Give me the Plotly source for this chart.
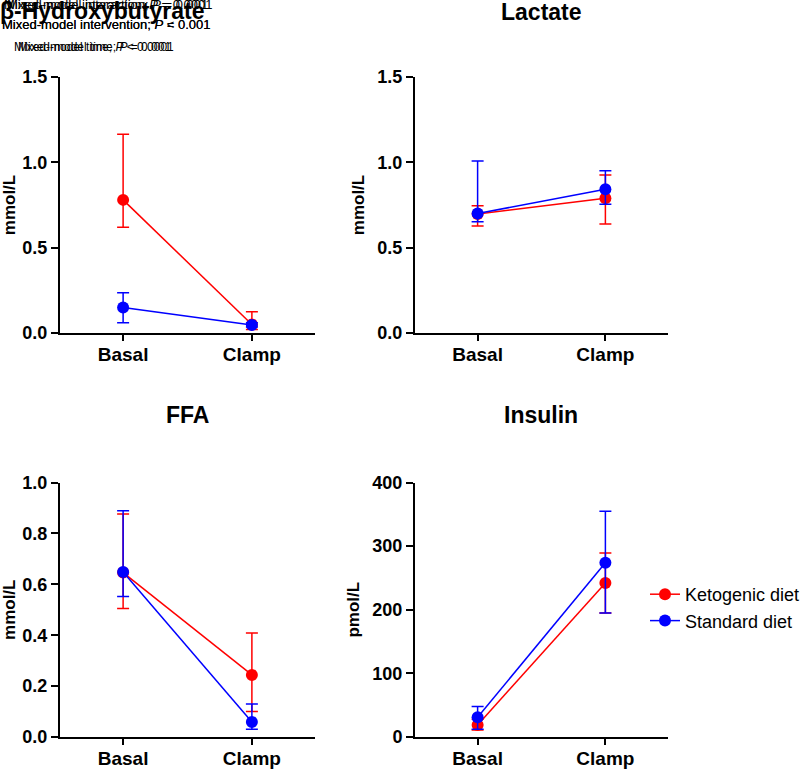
import plotly.graph_objects as go

categories = ["Basal", "Clamp"]

# β-Hydroxybutyrate (mmol/L)
bhb_keto = [0.78, 0.05]
bhb_keto_hi = [1.165, 0.125]
bhb_keto_lo = [0.62, 0.02]
bhb_std = [0.15, 0.047]
bhb_std_hi = [0.236, 0.06]
bhb_std_lo = [0.06, 0.035]

# Lactate (mmol/L)
lac_keto = [0.697, 0.789]
lac_keto_hi = [0.746, 0.926]
lac_keto_lo = [0.627, 0.639]
lac_std = [0.70, 0.842]
lac_std_hi = [1.008, 0.951]
lac_std_lo = [0.652, 0.754]

# FFA (mmol/L)
ffa_keto = [0.646, 0.244]
ffa_keto_hi = [0.876, 0.409]
ffa_keto_lo = [0.505, 0.100]
ffa_std = [0.648, 0.059]
ffa_std_hi = [0.889, 0.130]
ffa_std_lo = [0.552, 0.03]

# Insulin (pmol/L)
ins_keto = [19, 242]
ins_keto_hi = [28, 289]
ins_keto_lo = [11, 195]
ins_std = [31, 274]
ins_std_hi = [48, 355]
ins_std_lo = [12, 195]

RED = "#ff0000"
BLUE = "#0000ff"
FONT = "Arial, Liberation Sans, sans-serif"

W, H = 800, 770

def px(x):
    return x / W

def py(y):
    return 1 - y / H

fig = go.Figure()

panels = [
    ("x", "y", bhb_keto, bhb_keto_hi, bhb_keto_lo, bhb_std, bhb_std_hi, bhb_std_lo),
    ("x2", "y2", lac_keto, lac_keto_hi, lac_keto_lo, lac_std, lac_std_hi, lac_std_lo),
    ("x3", "y3", ffa_keto, ffa_keto_hi, ffa_keto_lo, ffa_std, ffa_std_hi, ffa_std_lo),
    ("x4", "y4", ins_keto, ins_keto_hi, ins_keto_lo, ins_std, ins_std_hi, ins_std_lo),
]

for i, (xa, ya, k, khi, klo, s, shi, slo) in enumerate(panels):
    for name, vals, hi, lo, col in [
        ("Ketogenic diet", k, khi, klo, RED),
        ("Standard diet", s, shi, slo, BLUE),
    ]:
        fig.add_trace(go.Scatter(
            x=[0, 1], y=vals, xaxis=xa, yaxis=ya,
            mode="lines+markers", name=name,
            showlegend=(i == 3),
            line=dict(color=col, width=1.5),
            marker=dict(color=col, size=12),
            error_y=dict(type="data", symmetric=False,
                         array=[h - v for h, v in zip(hi, vals)],
                         arrayminus=[v - l for v, l in zip(vals, lo)],
                         color=col, thickness=1.5, width=6),
            cliponaxis=False,
        ))

xdom_l = [px(60), px(315)]
xdom_r = [px(415), px(668)]
ydom_t = [py(333), py(77)]
ydom_b = [py(737), py(482.5)]

def xaxis_cfg(dom, anchor):
    return dict(domain=dom, anchor=anchor, range=[-0.49, 1.49],
                tickvals=[0, 1], ticktext=categories, automargin=False,
                showline=True, linecolor="black", linewidth=2,
                ticks="outside", ticklen=6, tickwidth=2, tickcolor="black",
                ticklabelstandoff=-3,
                showgrid=False, zeroline=False,
                tickfont=dict(family=FONT, size=19, color="black", weight="bold"))

def yaxis_cfg(dom, anchor, rng, dtick, fmt, title):
    return dict(domain=dom, anchor=anchor, range=rng, dtick=dtick, tick0=0,
                tickformat=fmt, automargin=False,
                showline=True, linecolor="black", linewidth=2,
                ticks="outside", ticklen=7, tickwidth=2, tickcolor="black",
                showgrid=False, zeroline=False,
                tickfont=dict(family=FONT, size=18, color="black", weight="bold"),
                title=dict(text=title, standoff=8,
                           font=dict(family=FONT, size=17, color="black", weight="bold")))

fig.update_layout(
    template="none",
    width=W, height=H,
    margin=dict(l=0, r=0, t=0, b=0, autoexpand=False),
    paper_bgcolor="white", plot_bgcolor="white",
    font=dict(family=FONT, color="black"),
    xaxis=xaxis_cfg(xdom_l, "y"),
    yaxis=yaxis_cfg(ydom_t, "x", [0, 1.5], 0.5, ".1f", "mmol/L"),
    xaxis2=xaxis_cfg(xdom_r, "y2"),
    yaxis2=yaxis_cfg(ydom_t, "x2", [0, 1.5], 0.5, ".1f", "mmol/L"),
    xaxis3=xaxis_cfg(xdom_l, "y3"),
    yaxis3=yaxis_cfg(ydom_b, "x3", [0, 1.0], 0.2, ".1f", "mmol/L"),
    xaxis4=xaxis_cfg(xdom_r, "y4"),
    yaxis4=yaxis_cfg(ydom_b, "x4", [0, 400], 100, "d", "pmol/L"),
    legend=dict(x=px(645), y=py(576), xanchor="left", yanchor="top",
                itemwidth=30,
                font=dict(family=FONT, size=18, color="black"),
                bgcolor="rgba(0,0,0,0)", tracegroupgap=2),
)

ann = []
def note(text, x, y, size, bold=False, anchor="left"):
    ann.append(dict(text=text, x=px(x), y=py(y), xref="paper", yref="paper",
                    xanchor=anchor, yanchor="middle", showarrow=False,
                    font=dict(family=FONT, size=size, color="black",
                              weight="bold" if bold else "normal")))

# overlapping statistical notes (top-left)
note("Mixed-model interaction; <i>P</i> = 0.0001", 2, 4, 13)
note("Mixed-model interaction; <i>P</i> = 0.001", 5, 5, 13)
note("Mixed-model intervention; <i>P</i> < 0.001", 0, 25, 13)
note("Mixed-model intervention; <i>P</i> = 0.001", 0, 25, 13)
note("Mixed-model time; <i>P</i> < 0.0001", 12, 47, 12)
note("Mixed-model time; <i>P</i> = 0.001", 16, 47, 12)
# panel titles
note("β-Hydroxybutyrate", -2, 11, 23, bold=True)
note("Lactate", 541, 12, 23, bold=True, anchor="center")
note("FFA", 187, 415, 23, bold=True, anchor="center")
note("Insulin", 541, 415, 23, bold=True, anchor="center")

fig.update_layout(annotations=ann)

fig.write_html("out.html",
               config={"displayModeBar": False},
               post_script="document.body.style.margin='0';document.body.style.overflow='hidden';")
